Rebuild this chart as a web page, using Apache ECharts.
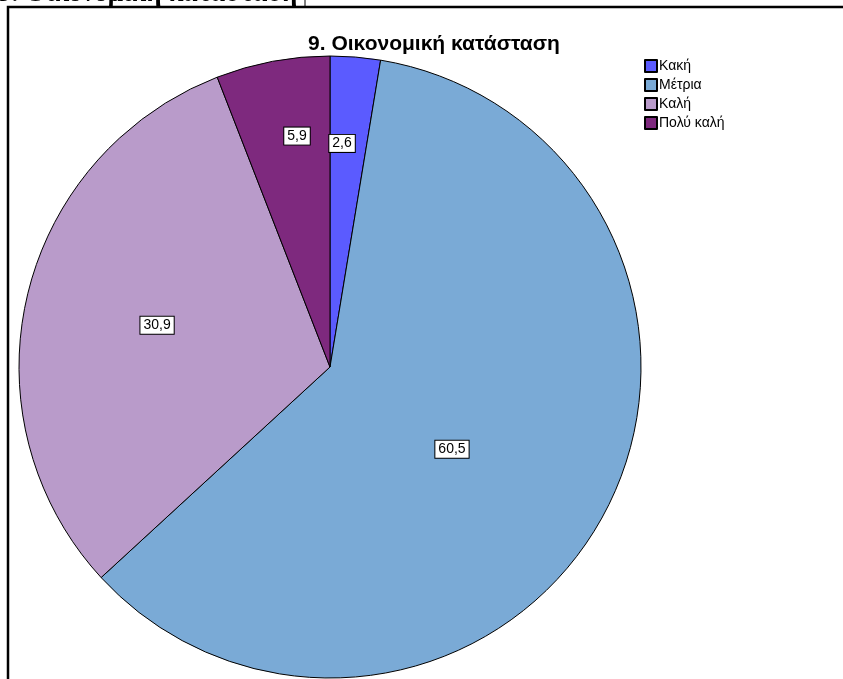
<!DOCTYPE html>
<html>
<head>
<meta charset="utf-8">
<script src="https://cdn.jsdelivr.net/npm/echarts@6/dist/echarts.min.js"></script>
<style>
  html, body { margin: 0; padding: 0; background: #fff; }
  #chart { width: 843px; height: 679px; }
</style>
</head>
<body>
<div id="chart"></div>
<script>
const categories = ['Κακή', 'Μέτρια', 'Καλή', 'Πολύ καλή']
const percents = [2.6, 60.5, 30.9, 5.9]
const colors = ['#5b5bff', '#7aaad6', '#b99bca', '#7e297e']
// label boxes: share of the radius out from the centre, and a small turn (deg, clockwise)
const labelReach = [0.72, 0.473, 0.572, 0.75]
const labelTurn = [-1.6, 5.6, 0.5, 2.5]

const cx = 330
const cy = 367
const radius = 311

const chart = echarts.init(document.getElementById('chart'))

chart.setOption({
  animation: false,
  title: {
    text: '9. Οικονομική κατάσταση',
    left: 429,
    textAlign: 'center',
    top: 29,
    textStyle: {
      fontFamily: 'Liberation Sans, Arial, sans-serif',
      fontSize: 21,
      fontWeight: 'bold',
      color: '#000'
    }
  },
  legend: {
    orient: 'vertical',
    left: 644,
    top: 59,
    padding: 0,
    itemWidth: 12,
    itemHeight: 12,
    itemGap: 5,
    icon: 'rect',
    data: categories,
    textStyle: {
      fontFamily: 'Liberation Sans, Arial, sans-serif',
      fontSize: 14,
      color: '#000',
      padding: [0, 0, 0, -3]
    }
  },
  graphic: [
    {
      type: 'rect',
      shape: { x: 8, y: 7, width: 900, height: 800 },
      style: { fill: 'none', stroke: '#000', lineWidth: 2.5 },
      silent: true
    },
    {
      type: 'text',
      left: -2,
      top: -19,
      style: {
        text: '9. Οικονομική κατάσταση',
        font: 'bold 27px "Liberation Serif", "Times New Roman", serif',
        fill: '#000'
      },
      silent: true
    },
    {
      type: 'line',
      shape: { x1: 305, y1: 0, x2: 305, y2: 7 },
      style: { stroke: '#000', lineWidth: 1 }
    }
  ],
  series: [
    {
      type: 'pie',
      center: [cx, cy],
      radius: [0, radius],
      startAngle: 90,
      clockwise: true,
      avoidLabelOverlap: false,
      itemStyle: {
        borderColor: '#000',
        borderWidth: 1
      },
      label: {
        show: true,
        position: 'inside',
        formatter: p => String(p.value).replace('.', ','),
        fontFamily: 'Liberation Sans, Arial, sans-serif',
        fontSize: 14,
        color: '#000',
        backgroundColor: '#fff',
        borderColor: '#000',
        borderWidth: 1,
        padding: [2, 3, 1, 3]
      },
      labelLine: { show: false },
      labelLayout: function(params) {
        // pie puts inside labels on the mid-angle; push them out and turn them a bit
        const r = params.labelRect
        const dx = r.x + r.width / 2 - cx
        const dy = r.y + r.height / 2 - cy
        const len = Math.sqrt(dx * dx + dy * dy) || 1
        const a = Math.atan2(dy, dx) + labelTurn[params.dataIndex] * Math.PI / 180
        const dist = labelReach[params.dataIndex] * radius
        return {
          x: cx + Math.cos(a) * dist,
          y: cy + Math.sin(a) * dist,
          align: 'center',
          verticalAlign: 'middle'
        }
      },
      emphasis: { disabled: true },
      data: categories.map((name, i) => ({
        name: name,
        value: percents[i],
        itemStyle: { color: colors[i] }
      }))
    }
  ]
})
</script>
</body>
</html>
